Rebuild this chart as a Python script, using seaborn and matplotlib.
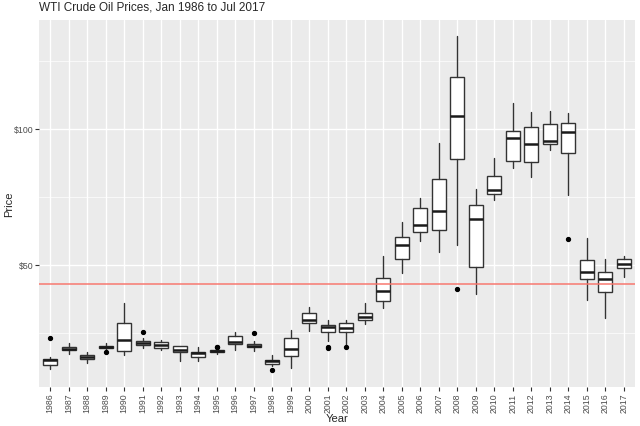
import matplotlib
matplotlib.use("Agg")
import matplotlib.pyplot as plt
import seaborn as sns
from matplotlib.ticker import FixedLocator

# five-number summaries per year
years = [str(y) for y in range(1986, 2018)]
whis_lo = [11.59, 17.28, 13.77, 18.02, 16.70, 19.50, 18.79, 14.52, 14.66, 17.33,
           18.86, 18.33, 13.00, 12.01, 25.72, 22.17, 20.72, 28.14, 34.31, 46.84,
           58.89, 54.51, 57.31, 39.09, 73.74, 85.52, 82.30, 92.02, 75.79, 37.19,
           30.32, 45.40]
q1 = [13.28, 18.56, 15.26, 19.26, 18.45, 20.41, 19.31, 17.79, 16.04, 17.99,
      20.98, 19.69, 13.66, 16.65, 28.71, 25.19, 25.27, 29.82, 36.75, 52.19,
      61.88, 62.71, 88.88, 49.22, 76.08, 88.02, 87.89, 94.35, 91.01, 44.83,
      39.95, 48.70]
med = [15.00, 19.15, 16.29, 19.82, 22.49, 21.32, 20.66, 18.59, 17.59, 18.34,
       21.62, 20.07, 14.69, 19.01, 29.77, 27.31, 26.66, 30.93, 40.53, 57.34,
       64.65, 69.93, 104.78, 66.78, 77.47, 96.71, 94.32, 95.54, 98.67, 47.52,
       44.95, 50.30]
q3 = [15.40, 19.91, 16.88, 20.11, 28.56, 22.03, 21.71, 19.99, 18.15, 18.67,
      23.78, 21.06, 15.18, 22.97, 32.14, 27.86, 28.50, 32.35, 45.16, 60.12,
      70.87, 81.39, 118.85, 71.91, 82.48, 99.15, 100.75, 101.57, 102.10, 51.79,
      47.22, 52.10]
whis_hi = [16.11, 21.34, 17.86, 21.10, 35.92, 23.23, 22.39, 20.32, 19.66, 19.03,
           25.23, 22.18, 16.72, 26.10, 34.40, 29.61, 29.66, 35.87, 53.28, 65.59,
           74.41, 94.77, 133.88, 77.99, 89.15, 109.53, 106.16, 106.57, 105.79, 59.82,
           51.97, 53.40]

# outlying months
outlier_years = ["1986", "1989", "1991", "1995", "1995", "1997", "1998",
                 "2001", "2001", "2002", "2008", "2014"]
outlier_prices = [22.93, 17.94, 25.23, 19.74, 19.87, 25.13, 11.35,
                  19.39, 19.64, 19.71, 41.12, 59.29]

avg_price = 43.0

sns.set_theme(style="darkgrid", rc={
    "axes.facecolor": "#EBEBEB",
    "grid.color": "white",
})
plt.rcParams["font.family"] = ["Liberation Sans", "DejaVu Sans"]

fig = plt.figure(figsize=(6.4, 4.27), dpi=100)
ax = fig.add_axes([0.061, 0.092, 0.931, 0.8595])

stats = []
for i, y in enumerate(years):
    stats.append({
        "label": y,
        "whislo": whis_lo[i], "q1": q1[i], "med": med[i],
        "q3": q3[i], "whishi": whis_hi[i],
        "fliers": [p for oy, p in zip(outlier_years, outlier_prices) if oy == y],
    })

ax.bxp(stats, positions=range(len(years)), widths=0.75, patch_artist=True,
       showcaps=False,
       boxprops=dict(facecolor="white", edgecolor="#333333", linewidth=1.0),
       medianprops=dict(color="#1a1a1a", linewidth=1.8),
       whiskerprops=dict(color="#333333", linewidth=1.0),
       flierprops=dict(marker="o", markerfacecolor="black", markeredgecolor="black",
                       markersize=2.8),
       zorder=3)

ax.axhline(avg_price, color="#F8766D", linewidth=1.2, alpha=0.9, zorder=4)

ax.set_xlim(-0.6, len(years) - 0.4)
ax.set_ylim(5.22, 140.0)
ax.set_xticks(range(len(years)))
ax.set_xticklabels(years, rotation=90)
ax.yaxis.set_major_locator(FixedLocator([50, 100]))
ax.yaxis.set_minor_locator(FixedLocator([25, 75, 125]))
ax.set_yticklabels(["$50", "$100"])
ax.grid(which="major", color="white", linewidth=1.0)
ax.grid(which="minor", axis="y", color="white", linewidth=0.5)
ax.tick_params(axis="both", which="major", length=2.8, width=0.8, color="#333333",
               labelcolor="#4D4D4D", labelsize=6.3, pad=1.5, bottom=True, left=True)
ax.tick_params(axis="y", which="minor", length=0)
for s in ax.spines.values():
    s.set_visible(False)

# axis titles placed like the reference
fig.text(0.527, 0.019, "Year", fontsize=8, ha="center", va="center")
fig.text(0.015, 0.522, "Price", fontsize=8, ha="center", va="center", rotation=90)
ax.set_title("WTI Crude Oil Prices, Jan 1986 to Jul 2017", fontsize=8.5,
             loc="left", pad=7)

fig.savefig("out.png", dpi=100)
